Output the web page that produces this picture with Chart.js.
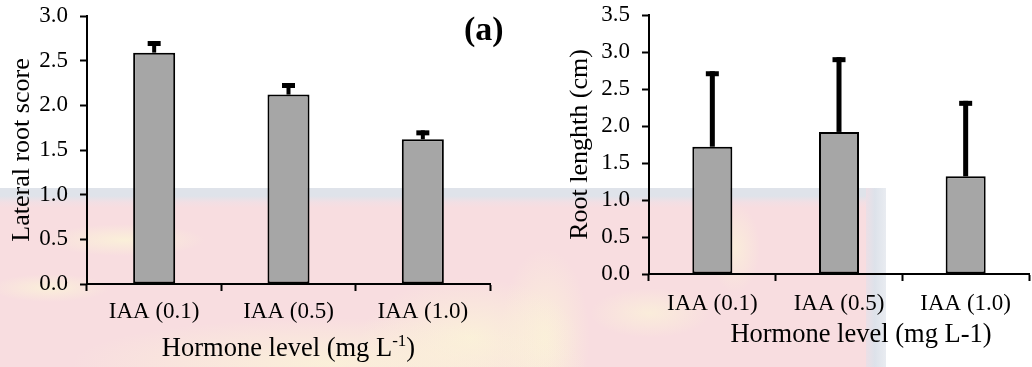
<!DOCTYPE html>
<html><head><meta charset="utf-8">
<script src="https://cdn.jsdelivr.net/npm/chart.js@4.4.1/dist/chart.umd.min.js"></script>
<style>
html,body{margin:0;padding:0;background:#fff;width:1032px;height:367px;overflow:hidden;position:relative}
canvas{position:absolute;top:0}
#wm{position:absolute;left:0;top:188px;width:868px;height:179px;
 background:
  radial-gradient(ellipse 80px 16px at 125px 52px, rgba(251,243,216,0.85), rgba(251,243,216,0) 100%),
  radial-gradient(ellipse 60px 14px at 50px 100px, rgba(251,243,216,0.8), rgba(251,243,216,0) 100%),
  radial-gradient(ellipse 260px 45px at 330px 175px, rgba(251,243,216,0.85), rgba(251,243,216,0) 100%),
  radial-gradient(ellipse 110px 60px at 470px 150px, rgba(251,243,216,0.85), rgba(251,243,216,0) 100%),
  radial-gradient(ellipse 45px 90px at 545px 150px, rgba(251,243,216,0.8), rgba(251,243,216,0) 100%),
  radial-gradient(ellipse 25px 45px at 735px 60px, rgba(251,243,216,0.7), rgba(251,243,216,0) 100%),
  radial-gradient(ellipse 60px 25px at 650px 125px, rgba(251,243,216,0.7), rgba(251,243,216,0) 100%),
  linear-gradient(to bottom, #dfe3ea 0px, #dfe3ea 8px, #f2dfe4 14px, #f8dde0 20px, #f8dde0 100%);
}
#wmr{position:absolute;left:866px;top:188px;width:20px;height:179px;
 background:linear-gradient(to right,#ecdfe6 0%,#dde2ea 45%,#e9ecf1 100%);}
#lbl{position:absolute;left:464px;top:9px;font:bold 34px "Liberation Serif";color:#000;line-height:40px}
</style></head><body>
<div id="wm"></div><div id="wmr"></div>
<canvas id="c1" width="530" height="367" style="left:0"></canvas>
<canvas id="c2" width="502" height="367" style="left:530px"></canvas>
<div id="lbl">(a)</div>
<script>
const categories = ['IAA (0.1)', 'IAA (0.5)', 'IAA (1.0)'];
const lateralRootScore = [2.59, 2.12, 1.62];
const lateralRootErr = [0.13, 0.13, 0.10];
const rootLength = [1.72, 1.92, 1.32];
const rootLengthErr = [1.02, 1.01, 1.02];
const leftAxisMax = 3.0;
const rightAxisMax = 3.5;
const tickStep = 0.5;

const SERIF = '"Liberation Serif", "Times New Roman", serif';

const errorBarPlugin = {
  id: 'errorBars',
  afterDatasetsDraw(chart, args, opts) {
    const ctx = chart.ctx;
    const meta = chart.getDatasetMeta(0);
    const ys = chart.scales.y;
    const data = chart.data.datasets[0].data;
    ctx.save();
    ctx.fillStyle = '#000';
    meta.data.forEach((el, i) => {
      const top = ys.getPixelForValue(data[i] + opts.errors[i]);
      const base = el.y;
      const x = el.x;
      ctx.fillRect(x - opts.stem / 2, top, opts.stem, base - top);
      ctx.fillRect(x - opts.cap / 2, top, opts.cap, opts.capH);
    });
    ctx.restore();
  }
};

const xTitlePlugin = {
  id: 'xTitle',
  afterDraw(chart, args, opts) {
    const ctx = chart.ctx;
    const a = chart.chartArea;
    ctx.save();
    ctx.fillStyle = '#000';
    ctx.textBaseline = 'alphabetic';
    ctx.textAlign = 'left';
    const mainFont = '26.5px ' + SERIF;
    const supFont = '17px ' + SERIF;
    ctx.font = mainFont;
    const w1 = ctx.measureText(opts.text).width;
    let w2 = 0, w3 = 0;
    if (opts.sup) {
      ctx.font = supFont; w2 = ctx.measureText(opts.sup).width;
      ctx.font = mainFont; w3 = ctx.measureText(opts.after).width;
    }
    const total = w1 + w2 + w3;
    const cx = (a.left + a.right) / 2 + opts.shift;
    let x = cx - total / 2;
    ctx.font = mainFont;
    ctx.fillText(opts.text, x, opts.baseline);
    if (opts.sup) {
      x += w1;
      ctx.font = supFont;
      ctx.fillText(opts.sup, x, opts.baseline - 10);
      x += w2;
      ctx.font = mainFont;
      ctx.fillText(opts.after, x, opts.baseline);
    }
    ctx.restore();
  }
};

function makeChart(id, values, errs, yMax, yTitle, yTitlePad, yWidth, xHeight, xPad, pad, barPct, stem, xTitleOpts) {
  return new Chart(document.getElementById(id), {
    type: 'bar',
    data: {
      labels: categories,
      datasets: [{
        data: values,
        backgroundColor: '#a6a6a6',
        borderColor: '#000',
        borderWidth: 2,
        borderSkipped: false,
        categoryPercentage: 1,
        barPercentage: barPct
      }]
    },
    options: {
      responsive: false,
      animation: false,
      devicePixelRatio: 1,
      layout: { padding: pad, autoPadding: false },
      plugins: {
        legend: { display: false },
        tooltip: { enabled: false },
        errorBars: { errors: errs, stem: stem, cap: 13, capH: 5 },
        xTitle: xTitleOpts
      },
      scales: {
        x: {
          afterFit(s) { s.height = xHeight; s.paddingLeft = 0; s.paddingRight = 0; },
          grid: { display: true, drawOnChartArea: false, drawTicks: true, tickLength: 7, tickColor: '#000', tickWidth: 2, offset: true },
          border: { display: true, color: '#000', width: 2 },
          ticks: { color: '#000', font: { family: SERIF, size: 23 }, padding: xPad, maxRotation: 0 }
        },
        y: {
          min: 0, max: yMax,
          afterFit(s) { s.width = yWidth; s.paddingTop = 0; s.paddingBottom = 0; },
          grid: { display: true, drawOnChartArea: false, drawTicks: true, tickLength: 7, tickColor: '#000', tickWidth: 2 },
          border: { display: true, color: '#000', width: 2 },
          ticks: { stepSize: tickStep, color: '#000', font: { family: SERIF, size: 23 }, padding: 12,
                   callback: v => Number(v).toFixed(1) },
          title: { display: true, text: yTitle, color: '#000', font: { family: SERIF, size: 26 }, padding: { top: yTitlePad, bottom: 0 } }
        }
      }
    },
    plugins: [errorBarPlugin, xTitlePlugin]
  });
}

makeChart('c1', lateralRootScore, lateralRootErr, leftAxisMax, 'Lateral root score', 7, 87, 83, 7,
  { top: 16, right: 40, left: 0, bottom: 0 }, 0.313, 4,
  { text: 'Hormone level (mg L', sup: '-1', after: ')', shift: 0, baseline: 356 });

makeChart('c2', rootLength, rootLengthErr, rightAxisMax, 'Root lenghth (cm)', 35, 119, 93, 9.5,
  { top: 15, right: 3, left: 0, bottom: 0 }, 0.316, 5,
  { text: 'Hormone level (mg L-1)', sup: '', after: '', shift: 22, baseline: 342 });
</script>
</body></html>
